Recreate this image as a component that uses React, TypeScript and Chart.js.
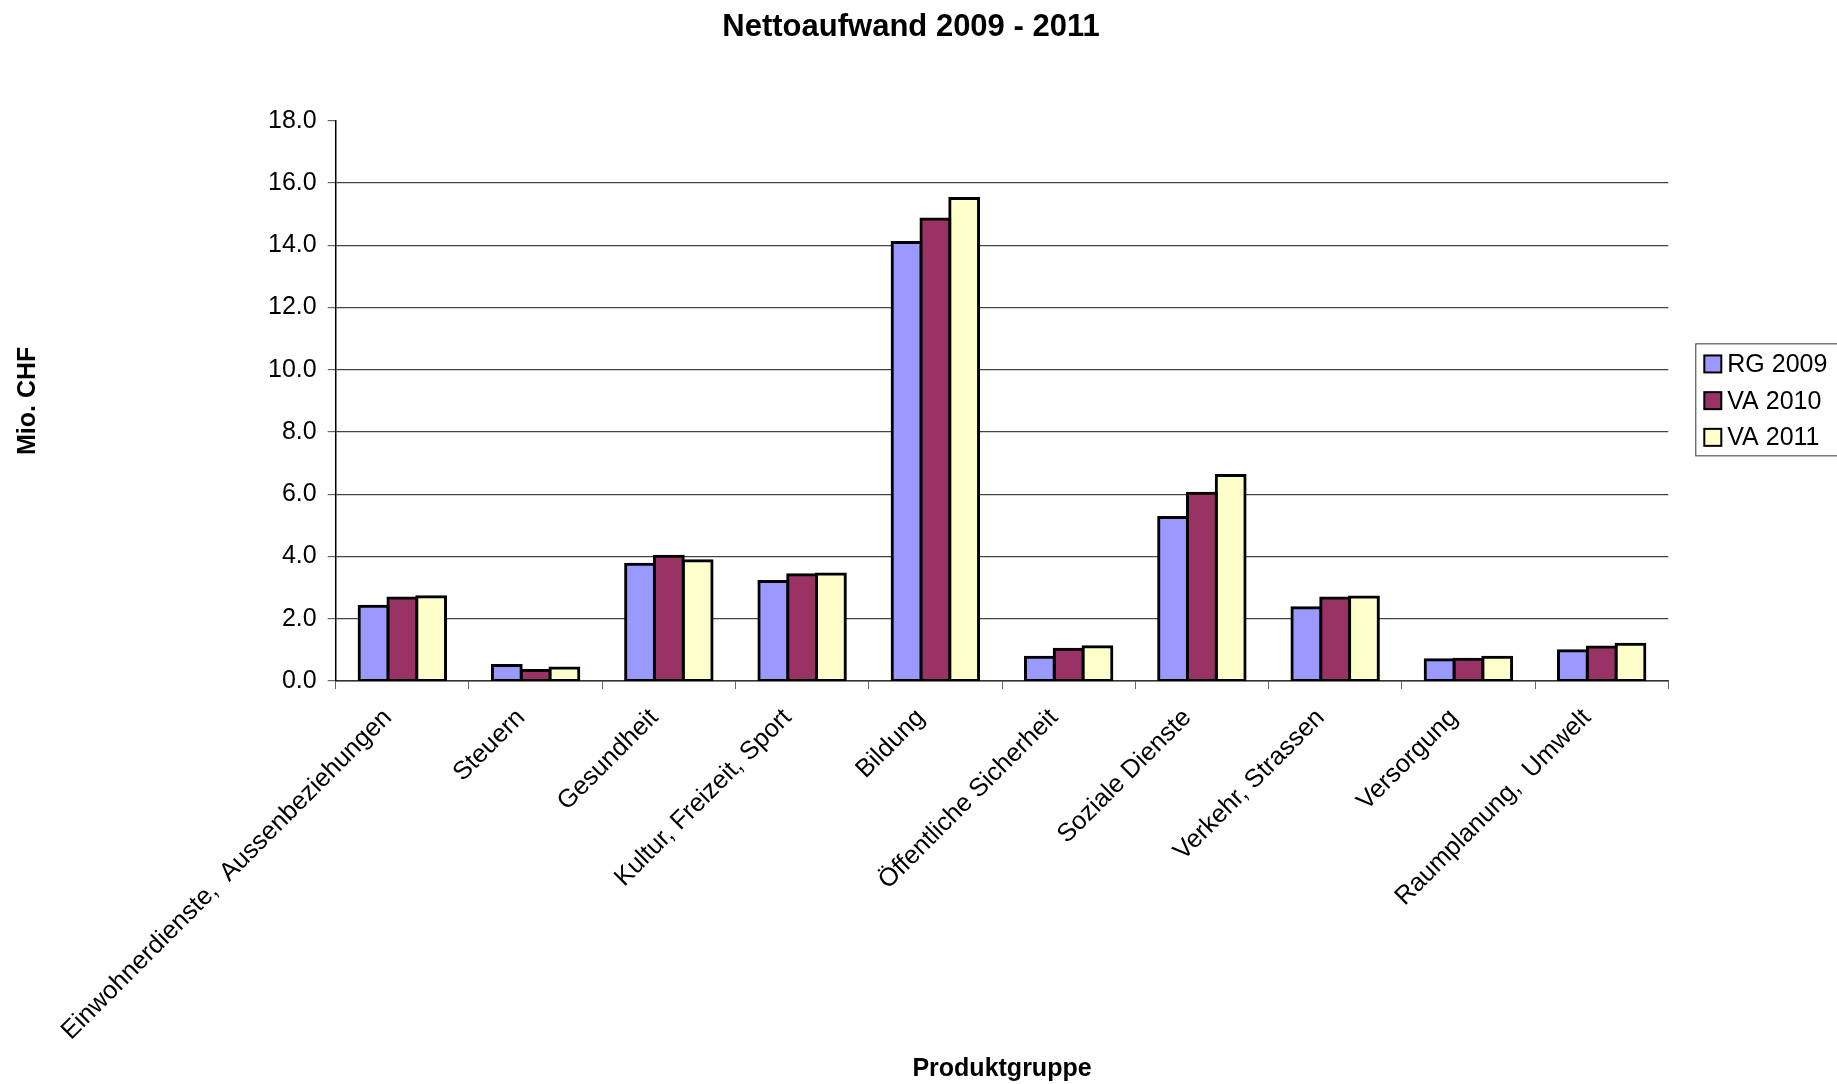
import React, { useEffect, useRef } from "react";
import { Chart, registerables } from "chart.js";

Chart.register(...registerables);

const categories = [
  "Einwohnerdienste,  Aussenbeziehungen",
  "Steuern",
  "Gesundheit",
  "Kultur, Freizeit, Sport",
  "Bildung",
  "Öffentliche Sicherheit",
  "Soziale Dienste",
  "Verkehr, Strassen",
  "Versorgung",
  "Raumplanung,  Umwelt",
];

const seriesNames = ["RG 2009", "VA 2010", "VA 2011"];

const rg2009 = [2.4, 0.5, 3.75, 3.2, 14.09, 0.76, 5.25, 2.35, 0.68, 0.97];
const va2010 = [2.67, 0.34, 4.01, 3.41, 14.84, 1.02, 6.03, 2.67, 0.7, 1.09];
const va2011 = [2.71, 0.42, 3.86, 3.44, 15.5, 1.1, 6.6, 2.7, 0.76, 1.18];

const yTicks = [0, 2, 4, 6, 8, 10, 12, 14, 16, 18];

const colors = ["#9999FF", "#993366", "#FFFFCC"];

const FONT = "'Liberation Sans', Arial, Helvetica, sans-serif";

const boxLegend = {
  id: "boxLegend",
  afterDraw(chart: any) {
    const { ctx, chartArea } = chart;
    const datasets = chart.data.datasets;
    const rowH = 36.7;
    const boxX = chartArea.right + 27;
    const cy = (chartArea.top + chartArea.bottom) / 2 - 1.5;
    const boxH = 112;
    const boxTop = cy - boxH / 2;
    ctx.save();
    ctx.strokeStyle = "#333";
    ctx.lineWidth = 1;
    ctx.strokeRect(boxX + 0.5, boxTop + 0.5, 200, boxH);
    ctx.font = `25px ${FONT}`;
    ctx.textBaseline = "middle";
    ctx.textAlign = "left";
    datasets.forEach((ds: any, i: number) => {
      const ry = boxTop + 20.6 + i * rowH;
      ctx.fillStyle = ds.backgroundColor;
      ctx.fillRect(boxX + 9, ry - 8.5, 17, 17);
      ctx.strokeStyle = "#000";
      ctx.lineWidth = 2;
      ctx.strokeRect(boxX + 9, ry - 8.5, 17, 17);
      ctx.fillStyle = "#000";
      ctx.fillText(ds.label, boxX + 32, ry + 1);
    });
    ctx.restore();
  },
};

export default function App() {
  const ref = useRef<HTMLCanvasElement | null>(null);

  useEffect(() => {
    if (!ref.current) return;
    const values = [rg2009, va2010, va2011];
    const chart = new Chart(ref.current, {
      type: "bar",
      data: {
        labels: categories,
        datasets: seriesNames.map((name, i) => ({
          label: name,
          data: values[i],
          backgroundColor: colors[i],
          borderColor: "#000",
          borderWidth: 3,
          borderSkipped: false,
          inflateAmount: 1.5,
          categoryPercentage: 0.6484,
          barPercentage: 1.0,
          yAxisID: "y",
        })),
      },
      options: {
        responsive: false,
        animation: false,
        devicePixelRatio: 1,
        layout: { padding: { left: 0, right: 15, top: 0, bottom: 0 } },
        plugins: {
          legend: { display: false },
          tooltip: { enabled: false },
          title: {
            display: true,
            text: "Nettoaufwand 2009 - 2011",
            color: "#000",
            font: { family: FONT, size: 31, weight: "bold" },
            padding: { top: 9, bottom: 74.5 },
          },
        },
        scales: {
          x: {
            afterFit(scale: any) {
              scale.height = 403;
            },
            grid: {
              offset: true,
              drawOnChartArea: false,
              drawTicks: true,
              tickLength: 8,
              color: "#666",
            },
            border: { display: true, color: "#333", width: 1.5 },
            ticks: {
              autoSkip: false,
              maxRotation: 45,
              minRotation: 45,
              padding: 14,
              labelOffset: -14.6,
              color: "#000",
              font: { family: FONT, size: 25.5 },
            },
            title: {
              display: true,
              text: "Produktgruppe",
              color: "#000",
              font: { family: FONT, size: 25, weight: "bold" },
              padding: { top: 0, bottom: 0 },
            },
          },
          y: {
            min: 0,
            max: 18,
            afterFit(scale: any) {
              scale.width = 335.7;
            },
            afterBuildTicks(scale: any) {
              scale.ticks = yTicks.map((v) => ({ value: v }));
            },
            grid: {
              color: (c: any) =>
                c.tick && c.tick.value === 18 ? "rgba(0,0,0,0)" : "#444",
              tickColor: "#666",
              lineWidth: 1.2,
              tickLength: 8,
            },
            border: { display: true, color: "#000", width: 1.5 },
            ticks: {
              padding: 11,
              color: "#000",
              font: { family: FONT, size: 25 },
              callback: (v: any) => Number(v).toFixed(1),
            },
            title: {
              display: true,
              text: "Mio. CHF",
              color: "#000",
              font: { family: FONT, size: 25, weight: "bold" },
              padding: { top: 13, bottom: 0 },
            },
          },
          legendSpace: {
            type: "linear",
            position: "right",
            display: true,
            afterFit(scale: any) {
              scale.width = 153.7;
            },
            grid: { display: false, drawTicks: false },
            border: { display: false },
            ticks: { display: false },
          },
        },
      },
      plugins: [boxLegend],
    } as any);
    return () => chart.destroy();
  }, []);

  return (
    <div style={{ position: "absolute", left: 0, top: 0, width: 1837, height: 1084, background: "#fff" }}>
      <canvas ref={ref} width={1837} height={1084} style={{ display: "block" }} />
    </div>
  );
}
